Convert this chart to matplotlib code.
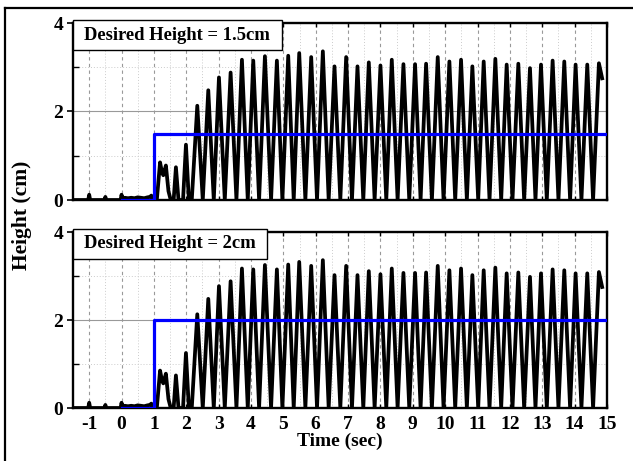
import numpy as np
import matplotlib
matplotlib.use("Agg")
import matplotlib.pyplot as plt
from matplotlib.patches import Rectangle
from matplotlib.lines import Line2D

plt.rcParams['font.family'] = ['Liberation Serif', 'DejaVu Serif']
plt.rcParams['font.weight'] = 'bold'

# ---- data ----
# quiet part before the flapping starts (time s, height cm)
pre_t = [-1.5, -1.03, -1.0, -0.97, -0.53, -0.5, -0.47, -0.03, 0.0, 0.03, 0.1, 0.2, 0.3,
         0.4, 0.5, 0.6, 0.7, 0.8, 0.88, 0.92, 0.96, 1.0, 1.05]
pre_h = [0.0, 0.0, 0.12, 0.0, 0.0, 0.07, 0.0, 0.0, 0.12, 0.03, 0.05, 0.04, 0.05,
         0.04, 0.06, 0.05, 0.04, 0.06, 0.07, 0.1, 0.04, 0.02, 0.0]
# transient right after the step
early_t = [1.09, 1.19, 1.25, 1.29, 1.37, 1.45, 1.52, 1.61, 1.68, 1.76, 1.90, 1.99, 2.08, 2.17]
early_h = [0.0, 0.85, 0.62, 0.56, 0.78, 0.2, 0.0, 0.0, 0.74, 0.0, 0.0, 1.25, 0.0, 0.0]
# periodic peaks
peak_t = [2.34, 2.68, 3.01, 3.37, 3.72, 4.07, 4.43, 4.80, 5.15, 5.49, 5.86, 6.22, 6.58,
          6.94, 7.29, 7.64, 8.00, 8.35, 8.71, 9.07, 9.41, 9.77, 10.13, 10.49, 10.84,
          11.19, 11.55, 11.90, 12.26, 12.62, 12.96, 13.32, 13.68, 14.03, 14.39, 14.75]
peak_h = [2.13, 2.48, 2.77, 2.88, 3.17, 3.15, 3.25, 3.15, 3.26, 3.32, 3.23, 3.36, 3.02,
          3.23, 3.02, 3.11, 3.04, 3.17, 3.07, 3.07, 3.08, 3.23, 3.13, 3.17, 3.02,
          3.13, 3.19, 3.06, 3.08, 2.98, 3.06, 3.15, 3.13, 3.06, 3.06, 3.09]
# troughs that follow each peak (height 0)
trough_t = [2.51, 2.85, 3.19, 3.55, 3.90, 4.25, 4.62, 4.97, 5.32, 5.68, 6.04, 6.40, 6.76,
            7.12, 7.47, 7.82, 8.18, 8.53, 8.89, 9.24, 9.59, 9.95, 10.31, 10.67, 11.02,
            11.37, 11.73, 12.08, 12.44, 12.79, 13.14, 13.50, 13.86, 14.21, 14.57]
end_t, end_h = 14.85, 2.75

# desired height reference (step at t = 1 s)
ref_t = [0.0, 1.0, 1.0, 15.0]
desired = [1.5, 2.0]
panel_text = ["Desired Height = 1.5cm", "Desired Height = 2cm"]
box_w = [0.391, 0.363]

xticks = list(range(-1, 16))
yticks = [0, 2, 4]

# build response polyline
main_t, main_h = [], []
for i, (pt, ph) in enumerate(zip(peak_t, peak_h)):
    main_t.append(pt); main_h.append(ph)
    if i < len(trough_t):
        main_t.append(trough_t[i]); main_h.append(0.0)
main_t.append(end_t); main_h.append(end_h)
t_all = np.array(pre_t + early_t + main_t)
h_all = np.array(pre_h + early_h + main_h)

W, H = 633, 461
fig = plt.figure(figsize=(W / 100, H / 100), dpi=100)

axes_px = [(23, 200), (232, 408)]
for k, (top, bot) in enumerate(axes_px):
    ax = fig.add_axes([73 / W, 1 - bot / H, 534 / W, (bot - top) / H])
    ax.set_xlim(-1.5, 15)
    ax.set_ylim(0, 4)
    ax.set_xticks(xticks)
    ax.set_xticks(np.arange(-1.5, 15.01, 0.5), minor=True)
    ax.set_yticks(yticks)
    ax.set_yticks([1, 3], minor=True)
    ax.grid(True, which='major', axis='x', color='#999999', ls=(0, (3, 3)), lw=0.8)
    ax.grid(True, which='minor', axis='x', color='#cccccc', ls=(0, (1, 2)), lw=0.7)
    ax.grid(True, which='major', axis='y', color='#999999', ls='-', lw=0.8)
    ax.grid(True, which='minor', axis='y', color='#cccccc', ls=(0, (1, 2)), lw=0.7)
    ax.set_axisbelow(True)
    ax.plot(t_all, h_all, color='black', lw=2.7, solid_joinstyle='round', zorder=3)
    ax.plot(ref_t, [0.0, 0.0, desired[k], desired[k]], color='#0000ff', lw=2.3, zorder=4)
    for s in ax.spines.values():
        s.set_linewidth(1.7)
    ax.tick_params(axis='y', which='major', direction='out', length=4, width=1.2,
                   labelsize=14, pad=3)
    ax.tick_params(axis='y', which='minor', direction='in', length=4, width=1.0)
    ax.tick_params(axis='x', which='major', direction='in', length=3, width=1.0,
                   labelsize=14, pad=6, top=True)
    ax.tick_params(axis='x', which='minor', length=0)
    for lab in ax.get_xticklabels() + ax.get_yticklabels():
        lab.set_fontweight('bold')
    if k == 0:
        ax.tick_params(axis='x', labelbottom=False)
    else:
        ax.set_xticklabels([str(v) for v in xticks])
    # annotation box
    bw = box_w[k]
    rect = Rectangle((0.0, 0.847), bw, 1.017 - 0.847, transform=ax.transAxes,
                     facecolor='white', edgecolor='black', lw=1.0, clip_on=False, zorder=10)
    ax.add_patch(rect)
    ax.text(bw / 2, (0.847 + 1.017) / 2, panel_text[k], transform=ax.transAxes,
            ha='center', va='center', fontsize=13.4, fontweight='bold', zorder=11)

fig.text(22 / W, 1 - 215 / H, "Height (cm)", rotation=90, ha='center', va='center',
         fontsize=15.5, fontweight='bold')
fig.text(340 / W, 1 - 441 / H, "Time (sec)", ha='center', va='center',
         fontsize=14, fontweight='bold')

# outer frame (top and left edges visible)
fig.add_artist(Line2D([5 / W, 1.0], [1 - 8 / H, 1 - 8 / H], transform=fig.transFigure,
                      color='black', lw=1.6))
fig.add_artist(Line2D([5 / W, 5 / W], [0.0, 1 - 8 / H], transform=fig.transFigure,
                      color='black', lw=1.6))

fig.savefig("out.png", dpi=100)
